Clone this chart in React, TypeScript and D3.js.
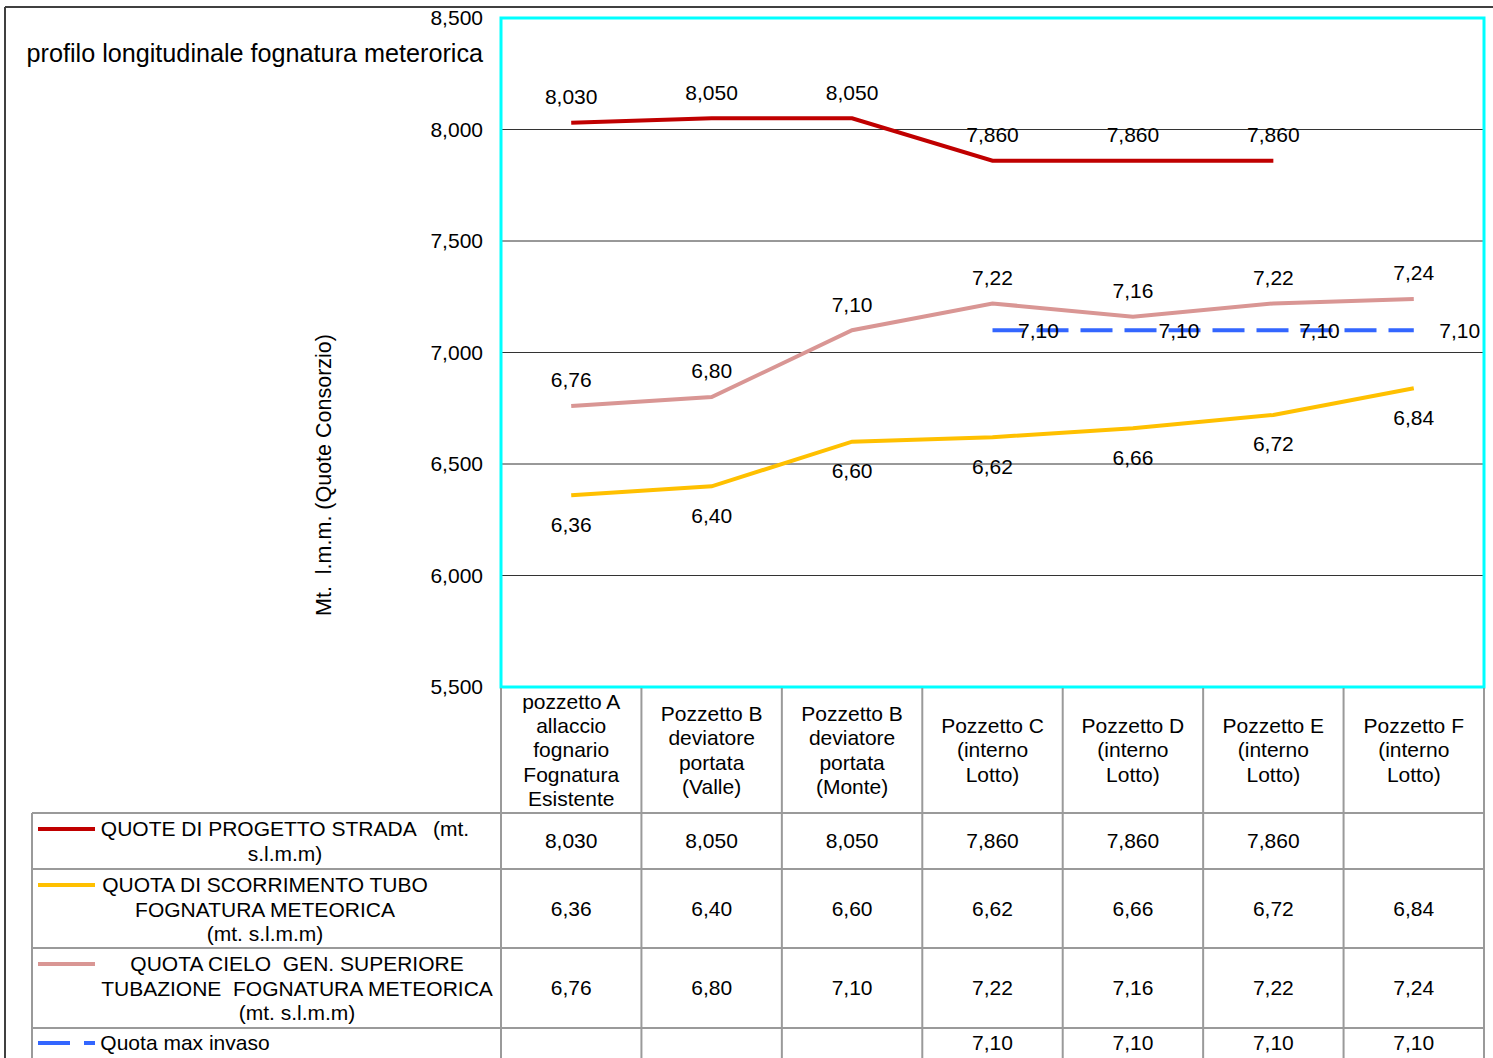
import * as d3 from "d3"

const categories = [
  ["pozzetto A", "allaccio", "fognario", "Fognatura", "Esistente"],
  ["Pozzetto B", "deviatore", "portata", "(Valle)"],
  ["Pozzetto B", "deviatore", "portata", "(Monte)"],
  ["Pozzetto C", "(interno", "Lotto)"],
  ["Pozzetto D", "(interno", "Lotto)"],
  ["Pozzetto E", "(interno", "Lotto)"],
  ["Pozzetto F", "(interno", "Lotto)"],
]
const strada: (number | null)[] = [8.03, 8.05, 8.05, 7.86, 7.86, 7.86, null]
const scorrimento: (number | null)[] = [6.36, 6.4, 6.6, 6.62, 6.66, 6.72, 6.84]
const cielo: (number | null)[] = [6.76, 6.8, 7.1, 7.22, 7.16, 7.22, 7.24]
const invaso: (number | null)[] = [null, null, null, 7.1, 7.1, 7.1, 7.1]
const yTicks = [5.5, 6, 6.5, 7, 7.5, 8, 8.5]

const W = 1493
const H = 1058
const PLOT = { left: 501, right: 1484, top: 18, bottom: 687 }
const FONT = "'Liberation Sans', Arial, sans-serif"
const FS = 21

const fmt3 = (v: number) => v.toFixed(3).replace(".", ",")
const fmt2 = (v: number) => v.toFixed(2).replace(".", ",")

const series = [
  {
    key: "strada",
    values: strada,
    color: "#c00000",
    fmt: fmt3,
    dash: undefined as string | undefined,
    labelDx: 0,
    labelDy: -26,
    legend: ["QUOTE DI PROGETTO STRADA   (mt.", "s.l.m.m)"],
    legendCx: 285,
  },
  {
    key: "scorrimento",
    values: scorrimento,
    color: "#ffc000",
    fmt: fmt2,
    dash: undefined,
    labelDx: 0,
    labelDy: 29,
    legend: ["QUOTA DI SCORRIMENTO TUBO", "FOGNATURA METEORICA", "(mt. s.l.m.m)"],
    legendCx: 265,
  },
  {
    key: "cielo",
    values: cielo,
    color: "#d99694",
    fmt: fmt2,
    dash: undefined,
    labelDx: 0,
    labelDy: -26,
    legend: ["QUOTA CIELO  GEN. SUPERIORE", "TUBAZIONE  FOGNATURA METEORICA", "(mt. s.l.m.m)"],
    legendCx: 297,
  },
  {
    key: "invaso",
    values: invaso,
    color: "#3366ff",
    fmt: fmt2,
    dash: "32,12",
    labelDx: 46,
    labelDy: 0,
    legend: ["Quota max invaso"],
    legendCx: 185,
  },
]

// table row boundaries (y)
const ROWS = [813, 869, 948, 1028, 1060]
const TABLE_LEFT = 32

export default function App() {
  const x = d3
    .scaleBand<number>()
    .domain(categories.map((_, i) => i))
    .range([PLOT.left, PLOT.right])
  const cx = (i: number) => x(i)! + x.bandwidth() / 2

  const y = d3.scaleLinear().domain([5.5, 8.5]).range([PLOT.bottom, PLOT.top])

  const line = d3
    .line<number | null>()
    .defined((d) => d !== null)
    .x((_, i) => cx(i))
    .y((d) => y(d as number))

  const gridColor = "#333"
  const tableColor = "#9a9a9a"

  return (
    <svg
      width={W}
      height={H}
      style={{ position: "absolute", left: 0, top: 0, background: "#fff" }}
      fontFamily={FONT}
      fontSize={FS}
    >
      {/* outer frame */}
      <line x1={5} x2={W} y1={7} y2={7} stroke="#404040" strokeWidth={2} />
      <line x1={5} x2={5} y1={7} y2={H} stroke="#404040" strokeWidth={2} />

      <text x={483} y={62} textAnchor="end" fontSize={25.2}>
        profilo longitudinale fognatura meterorica
      </text>

      {/* y axis title */}
      <text
        transform="translate(331,475) rotate(-90)"
        textAnchor="middle"
        fontSize={21.5}
        style={{ whiteSpace: "pre" }}
      >
        Mt.  l.m.m. (Quote Consorzio)
      </text>

      {/* grid + tick labels */}
      {yTicks.map((t) => (
        <g key={t}>
          {t > 5.5 && t < 8.5 && (
            <line x1={PLOT.left} x2={PLOT.right} y1={y(t)} y2={y(t)} stroke={gridColor} strokeWidth={1} />
          )}
          <text x={483} y={y(t)} dy="0.35em" textAnchor="end">
            {fmt3(t)}
          </text>
        </g>
      ))}

      {/* series lines */}
      {series.map((s) => (
        <path
          key={s.key}
          d={line(s.values) ?? ""}
          fill="none"
          stroke={s.color}
          strokeWidth={4}
          strokeDasharray={s.dash}
        />
      ))}

      {/* data labels */}
      {series.map((s) =>
        s.values.map((v, i) =>
          v === null ? null : (
            <text
              key={s.key + i}
              x={cx(i) + s.labelDx}
              y={y(v) + s.labelDy}
              dy="0.35em"
              textAnchor="middle"
            >
              {s.fmt(v)}
            </text>
          )
        )
      )}

      {/* plot border */}
      <rect
        x={PLOT.left}
        y={PLOT.top}
        width={PLOT.right - PLOT.left}
        height={PLOT.bottom - PLOT.top}
        fill="none"
        stroke="#00ffff"
        strokeWidth={3}
      />

      {/* table grid */}
      <g stroke={tableColor} strokeWidth={2}>
        {ROWS.slice(0, -1).map((r) => (
          <line key={r} x1={TABLE_LEFT} x2={PLOT.right} y1={r} y2={r} />
        ))}
        <line x1={TABLE_LEFT} x2={TABLE_LEFT} y1={ROWS[0]} y2={H} />
        {categories.map((_, i) => (
          <line key={i} x1={x(i)!} x2={x(i)!} y1={PLOT.bottom + 1} y2={H} />
        ))}
        <line x1={PLOT.right} x2={PLOT.right} y1={PLOT.bottom + 1} y2={H} />
      </g>

      {/* category header */}
      {categories.map((lines, i) => {
        const mid = (PLOT.bottom + ROWS[0]) / 2
        const lh = 24.3
        const start = mid - ((lines.length - 1) * lh) / 2
        return (
          <text key={i} textAnchor="middle">
            {lines.map((l, j) => (
              <tspan key={j} x={cx(i)} y={start + j * lh} dy="0.35em">
                {l}
              </tspan>
            ))}
          </text>
        )
      })}

      {/* legend rows + values */}
      {series.map((s, r) => {
        const top = ROWS[r]
        const bottom = ROWS[r + 1]
        const lh = 24.3
        const firstY = r === 3 ? top + 15 : top + 16
        const rowMid = r === 3 ? top + 15 : (top + bottom) / 2
        return (
          <g key={s.key}>
            <line
              x1={38}
              x2={95}
              y1={firstY}
              y2={firstY}
              stroke={s.color}
              strokeWidth={4}
              strokeDasharray={s.dash ? "32,14" : undefined}
            />
            {s.legend.map((l, j) => (
              <text
                key={j}
                x={s.legendCx}
                y={firstY + j * lh}
                dy="0.35em"
                textAnchor="middle"
                style={{ whiteSpace: "pre" }}
              >
                {l}
              </text>
            ))}
            {s.values.map((v, i) =>
              v === null ? null : (
                <text key={i} x={cx(i)} y={rowMid} dy="0.35em" textAnchor="middle">
                  {s.fmt(v)}
                </text>
              )
            )}
          </g>
        )
      })}
    </svg>
  )
}
